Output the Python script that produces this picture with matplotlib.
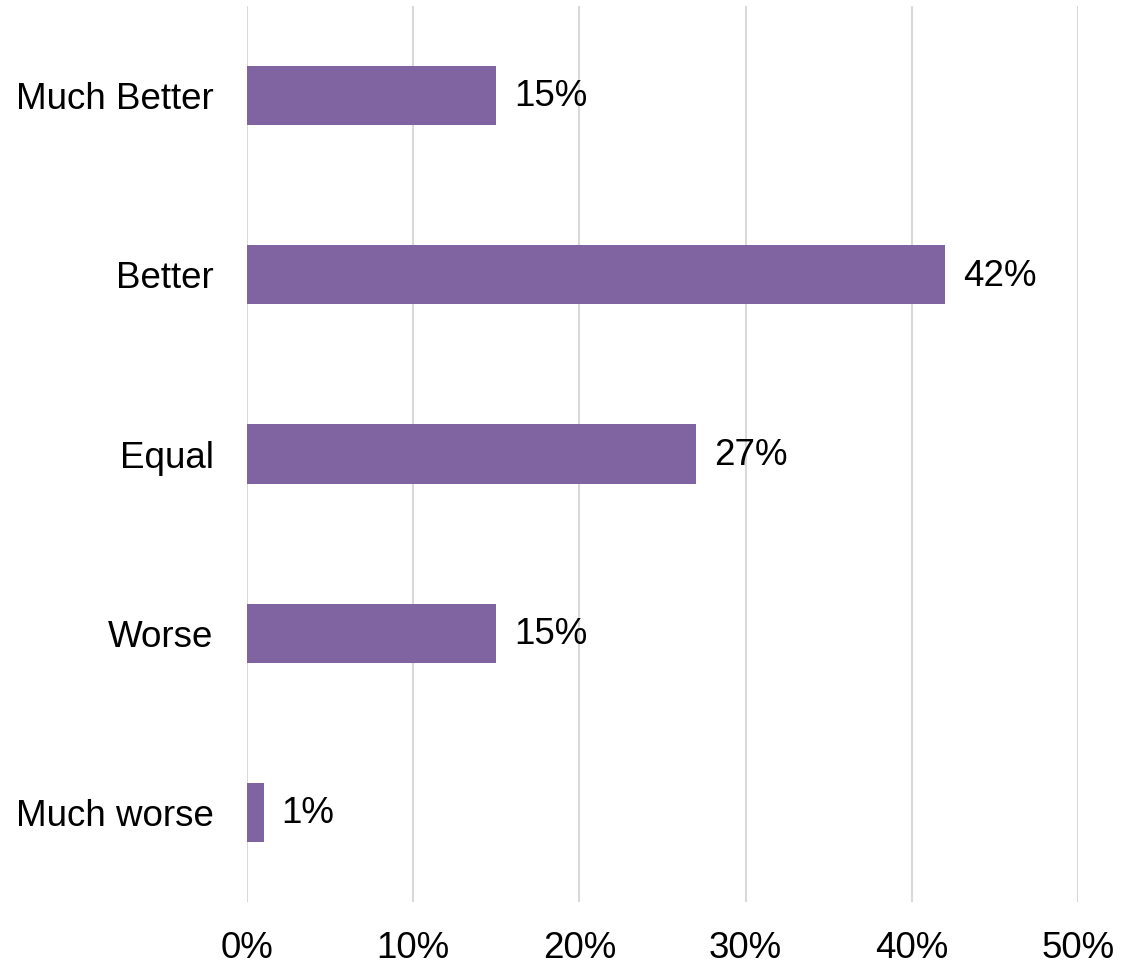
import matplotlib
matplotlib.use("Agg")
import matplotlib.pyplot as plt
from matplotlib.ticker import PercentFormatter

plt.rcParams['font.family'] = ['Liberation Sans', 'DejaVu Sans']

# Survey answers, top to bottom
categories = ["Much Better", "Better", "Equal", "Worse", "Much worse"]
shares = [15, 42, 27, 15, 1]
x_ticks = [0, 10, 20, 30, 40, 50]

bar_color = "#8064A2"
grid_color = "#D9D9D9"
fs = 26.5

fig = plt.figure(figsize=(11.22, 9.67), dpi=100)
ax = fig.add_axes([247 / 1122, 1 - 902 / 967, (1078 - 247) / 1122, (902 - 6) / 967])

ypos = list(range(len(categories)))
bars = ax.barh(ypos, shares, height=0.33, color=bar_color, zorder=3)

# value labels just right of each bar
for rect, v in zip(bars, shares):
    ax.annotate(f"{v}%", (rect.get_width(), rect.get_y() + rect.get_height() / 2),
                xytext=(13, -1), textcoords="offset points",
                ha="left", va="center", fontsize=fs, color="black")

ax.set_yticks(ypos)
ax.set_yticklabels(categories)
ax.set_ylim(len(categories) - 0.5, -0.5)
ax.set_xlim(0, 50)
ax.set_xticks(x_ticks)
ax.xaxis.set_major_formatter(PercentFormatter(decimals=0))

ax.grid(axis="x", color=grid_color, linewidth=1.5, zorder=0)
for s in ax.spines.values():
    s.set_visible(False)
ax.tick_params(axis="both", length=0, labelsize=fs, colors="black")
ax.tick_params(axis="y", pad=24)
ax.tick_params(axis="x", pad=21)

fig.savefig("out.png", dpi=100)
